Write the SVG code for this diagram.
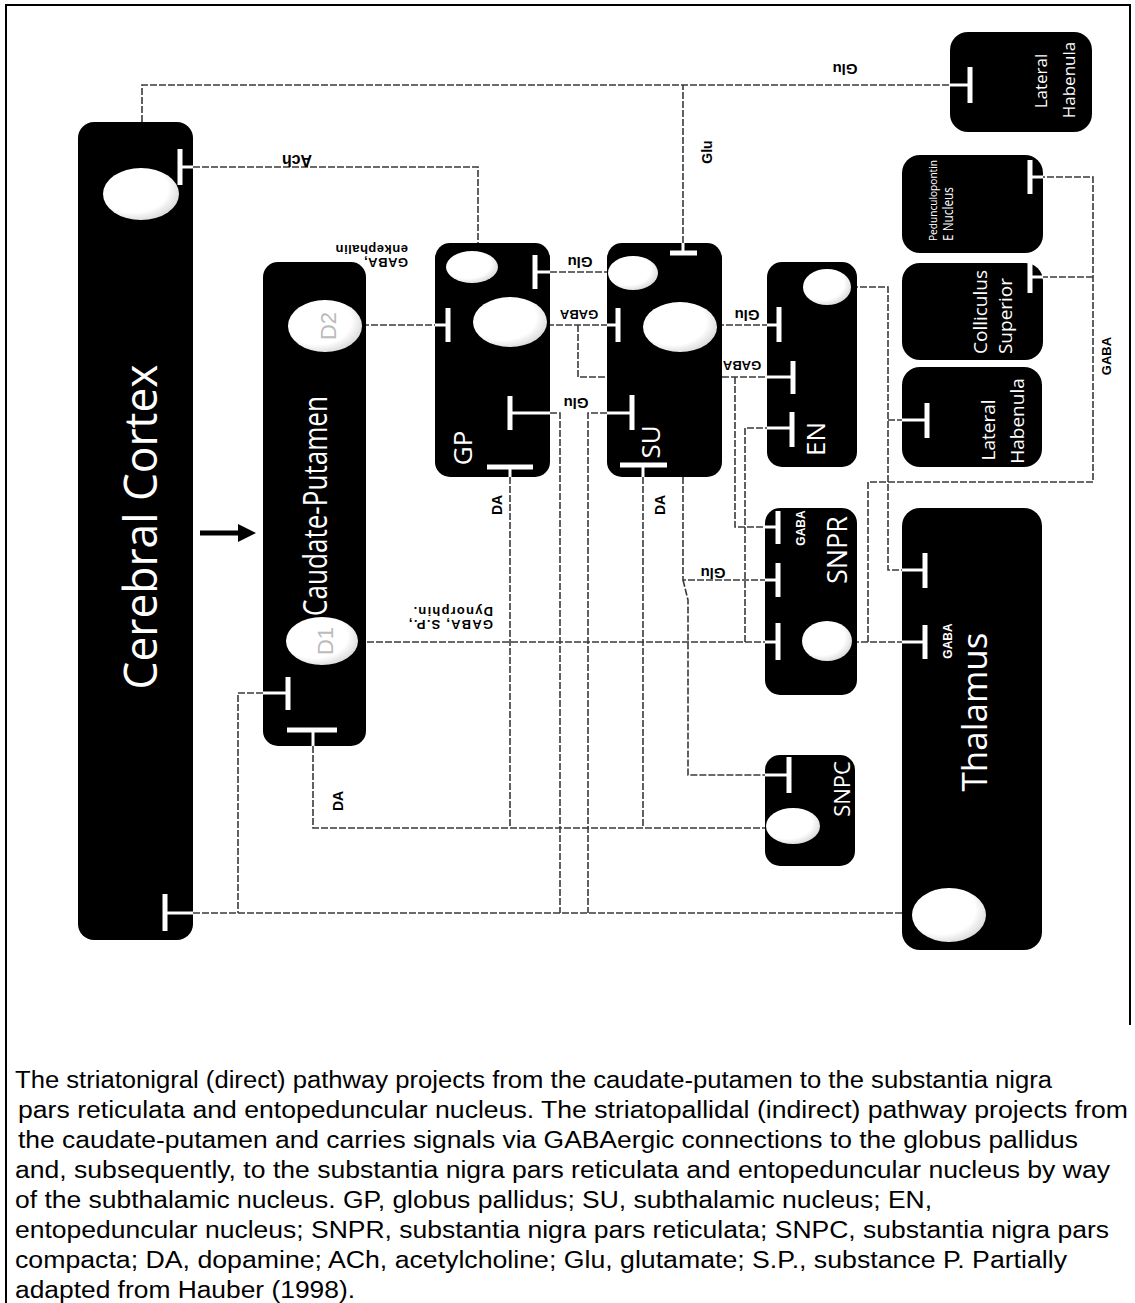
<svg xmlns="http://www.w3.org/2000/svg" width="1135" height="1303" viewBox="0 0 1135 1303">
<style>
.box{fill:#000}
.ell{fill:url(#eg)}
.bar{stroke:#fff;stroke-width:5;fill:none}
.stem{stroke:#fff;stroke-width:3;fill:none}
.win{stroke:#fff;stroke-width:2.5;fill:none}
.dash{stroke:#3a3a3a;stroke-width:1.6;fill:none;stroke-dasharray:7 2}
.nl{font-family:"Open Sans","Liberation Sans",sans-serif;fill:#fff}
.lb{font-family:"Liberation Sans",Arial,sans-serif;font-weight:bold;fill:#000}
.lw{font-family:"Liberation Sans",Arial,sans-serif;font-weight:bold;fill:#fff}
.cap{font-family:"Liberation Sans",Arial,sans-serif;font-size:23px;fill:#000}
</style>
<defs>
<radialGradient id="eg" cx="0.4" cy="0.4" r="0.65">
<stop offset="0.7" stop-color="#fff"/>
<stop offset="1" stop-color="#d8d8d8"/>
</radialGradient>
</defs>
<rect width="1135" height="1303" fill="#fff"/>
<path d="M6,1303 V5 H1130 V1025" fill="none" stroke="#000" stroke-width="2"/>

<!-- connectors -->
<g id="connectors">
<path class="dash" d="M142,122 V85 H950"/>
<path class="win" d="M142,168 V122"/>
<path class="dash" d="M683,243 V85"/>
<path class="dash" d="M193,167 H478 V243"/>
<path class="win" d="M478,243 V252"/>
<path class="dash" d="M362,325 H435"/>
<path class="dash" d="M550,272 H608"/>
<path class="dash" d="M547,325 H607"/>
<path class="dash" d="M578,325 V377 H607"/>
<path class="win" d="M607,377 H722"/>
<path class="dash" d="M722,377 H767"/>
<path class="dash" d="M717,325 H767"/>
<path class="dash" d="M735,377 V527 H765"/>
<path class="dash" d="M358,642 H765"/>
<path class="dash" d="M745,642 V428 H767"/>
<path class="dash" d="M852,642 H902"/>
<path class="dash" d="M868,642 V482 H1093 V177 H1043"/>
<path class="dash" d="M1093,277 H1043"/>
<path class="dash" d="M851,287 H888 V570 H902"/>
<path class="dash" d="M888,420 H902"/>
<path class="win" d="M683,352 V477"/>
<path class="dash" d="M683,477 V580 H765"/>
<path class="dash" d="M683,580 L688,600 V775 H765"/>
<path class="dash" d="M510,477 V828"/>
<path class="dash" d="M643,477 V828"/>
<path class="dash" d="M313,746 V828 H766"/>
<path class="dash" d="M550,413 H560 V913"/>
<path class="dash" d="M607,413 H588 V913"/>
<path class="dash" d="M193,913 H902"/>
<path class="win" d="M902,913 H914"/>
<path class="dash" d="M263,693 H238 V913"/>
<path d="M200,533 H240" stroke="#000" stroke-width="5"/>
<path d="M238,524 L256,533 L238,542 Z" fill="#000"/>
</g>

<g id="cortex">
<rect class="box" x="78" y="122" width="115" height="818" rx="16"/>
<ellipse class="ell" cx="141" cy="194" rx="38" ry="26"/>
<path class="bar" d="M180,149 V185"/><path class="stem" d="M180,167 H193"/>
<path class="bar" d="M165,894 V931"/><path class="stem" d="M165,913 H193"/>
<text class="nl" transform="translate(157,527) rotate(-90)" text-anchor="middle" font-size="46" textLength="325" lengthAdjust="spacingAndGlyphs">Cerebral Cortex</text>
</g>

<g id="caudate">
<rect class="box" x="263" y="262" width="103" height="484" rx="15"/>
<ellipse class="ell" cx="325" cy="326" rx="37" ry="26"/>
<ellipse class="ell" cx="322" cy="641" rx="36" ry="24"/>
<text transform="translate(336,326) rotate(-90)" text-anchor="middle" font-family="Liberation Sans,sans-serif" font-size="22" fill="#bbb">D2</text>
<text transform="translate(333,641) rotate(-90)" text-anchor="middle" font-family="Liberation Sans,sans-serif" font-size="22" fill="#bbb">D1</text>
<path class="bar" d="M288,677 V710"/><path class="stem" d="M288,693 H263"/>
<path class="bar" d="M287,730 H337"/><path class="stem" d="M313,730 V746"/>
<text class="nl" transform="translate(327,506) rotate(-90)" text-anchor="middle" font-size="32" textLength="220" lengthAdjust="spacingAndGlyphs">Caudate-Putamen</text>
</g>

<g id="gp">
<rect class="box" x="435" y="243" width="115" height="234" rx="15"/>
<ellipse class="ell" cx="472" cy="267" rx="26" ry="16"/>
<ellipse class="ell" cx="510" cy="322" rx="37" ry="25"/>
<path class="bar" d="M448,308 V342"/><path class="stem" d="M448,325 H435"/>
<path class="bar" d="M535,255 V289"/><path class="stem" d="M535,272 H550"/>
<path class="bar" d="M510,396 V430"/><path class="stem" d="M510,413 H550"/>
<path class="bar" d="M487,467 H533"/><path class="stem" d="M510,467 V477"/>
<text class="nl" transform="translate(472,448) rotate(-90)" text-anchor="middle" font-size="26">GP</text>
</g>

<g id="su">
<rect class="box" x="607" y="243" width="115" height="234" rx="15"/>
<ellipse class="ell" cx="633" cy="273" rx="25" ry="17"/>
<ellipse class="ell" cx="680" cy="327" rx="37" ry="25"/>
<path class="bar" d="M670,253 H697"/><path class="stem" d="M683,253 V243"/>
<path class="bar" d="M618,308 V342"/><path class="stem" d="M618,325 H607"/>
<path class="bar" d="M632,395 V430"/><path class="stem" d="M632,413 H607"/>
<path class="bar" d="M620,465 H667"/><path class="stem" d="M643,465 V477"/>
<text class="nl" transform="translate(660,442) rotate(-90)" text-anchor="middle" font-size="26">SU</text>
</g>

<g id="en">
<rect class="box" x="767" y="262" width="90" height="205" rx="15"/>
<ellipse class="ell" cx="827" cy="287" rx="24" ry="18"/>
<path class="bar" d="M779,307 V342"/><path class="stem" d="M779,325 H767"/>
<path class="bar" d="M793,361 V394"/><path class="stem" d="M793,377 H767"/>
<path class="bar" d="M792,412 V447"/><path class="stem" d="M792,428 H767"/>
<text class="nl" transform="translate(825,439) rotate(-90)" text-anchor="middle" font-size="26">EN</text>
</g>

<g id="snpr">
<rect class="box" x="765" y="508" width="92" height="187" rx="15"/>
<ellipse class="ell" cx="827" cy="641" rx="25" ry="20"/>
<path class="bar" d="M778,511 V544"/><path class="stem" d="M778,527 H765"/>
<path class="bar" d="M778,563 V597"/><path class="stem" d="M778,580 H765"/>
<path class="bar" d="M778,623 V660"/><path class="stem" d="M778,642 H765"/>
<text class="lw" transform="translate(805,528) rotate(-90)" text-anchor="middle" font-size="12">GABA</text>
<text class="nl" transform="translate(847,550) rotate(-90)" text-anchor="middle" font-size="27">SNPR</text>
</g>

<g id="snpc">
<rect class="box" x="765" y="755" width="90" height="111" rx="15"/>
<ellipse class="ell" cx="793" cy="826" rx="27" ry="18"/>
<path class="bar" d="M789,757 V793"/><path class="stem" d="M789,775 H765"/>
<text class="nl" transform="translate(850,789) rotate(-90)" text-anchor="middle" font-size="22">SNPC</text>
</g>

<g id="thalamus">
<rect class="box" x="902" y="508" width="140" height="442" rx="18"/>
<ellipse class="ell" cx="949" cy="915" rx="37" ry="27"/>
<path class="bar" d="M925,553 V588"/><path class="stem" d="M925,570 H902"/>
<path class="bar" d="M925,625 V659"/><path class="stem" d="M925,642 H902"/>
<text class="lw" transform="translate(952,641) rotate(-90)" text-anchor="middle" font-size="12">GABA</text>
<text class="nl" transform="translate(987,712) rotate(-90)" text-anchor="middle" font-size="35">Thalamus</text>
</g>

<g id="lathab1">
<rect class="box" x="950" y="32" width="142" height="100" rx="18"/>
<path class="bar" d="M970,67 V103"/><path class="stem" d="M970,85 H950"/>
<text class="nl" transform="translate(1047,81) rotate(-90)" text-anchor="middle" font-size="17">Lateral</text>
<text class="nl" transform="translate(1075,80) rotate(-90)" text-anchor="middle" font-size="17">Habenula</text>
</g>

<g id="ppn">
<rect class="box" x="902" y="155" width="141" height="98" rx="18"/>
<path class="bar" d="M1030,160 V194"/><path class="stem" d="M1030,177 H1043"/>
<text class="nl" transform="translate(937,241) rotate(-90)" font-size="11" textLength="81" lengthAdjust="spacingAndGlyphs">Pedunculopontin</text>
<text class="nl" transform="translate(953,241) rotate(-90)" font-size="15" textLength="54" lengthAdjust="spacingAndGlyphs">E Nucleus</text>
</g>

<g id="colliculus">
<rect class="box" x="902" y="263" width="141" height="97" rx="18"/>
<path class="bar" d="M1030,262 V293"/><path class="stem" d="M1030,277 H1043"/>
<text class="nl" transform="translate(987,312) rotate(-90)" text-anchor="middle" font-size="19">Colliculus</text>
<text class="nl" transform="translate(1012,316) rotate(-90)" text-anchor="middle" font-size="19">Superior</text>
</g>

<g id="lathab2">
<rect class="box" x="902" y="367" width="140" height="100" rx="18"/>
<path class="bar" d="M927,403 V438"/><path class="stem" d="M927,420 H902"/>
<text class="nl" transform="translate(995,430) rotate(-90)" text-anchor="middle" font-size="19">Lateral</text>
<text class="nl" transform="translate(1024,421) rotate(-90)" text-anchor="middle" font-size="19">Habenula</text>
</g>

<g id="labels">
<text class="lb" transform="translate(297,160) rotate(180)" text-anchor="middle" dominant-baseline="central" font-size="16">Ach</text>
<text class="lb" transform="translate(845,69) rotate(180)" text-anchor="middle" dominant-baseline="central" font-size="15">Glu</text>
<g transform="rotate(180,371,255)">
<text class="lb" x="334" y="248" dominant-baseline="central" font-size="13" letter-spacing="0.5">GABA,</text>
<text class="lb" x="334" y="261" dominant-baseline="central" font-size="13" letter-spacing="0.5">enkephalin</text>
</g>
<g transform="rotate(180,446.5,617.5)">
<text class="lb" x="400" y="611" dominant-baseline="central" font-size="13" letter-spacing="1.2">GABA, S.P.,</text>
<text class="lb" x="400" y="624" dominant-baseline="central" font-size="13" letter-spacing="1.2">Dynorphin.</text>
</g>
<text class="lb" transform="translate(580,262) rotate(180)" text-anchor="middle" dominant-baseline="central" font-size="15">Glu</text>
<text class="lb" transform="translate(579,314) rotate(180)" text-anchor="middle" dominant-baseline="central" font-size="13">GABA</text>
<text class="lb" transform="translate(747,315) rotate(180)" text-anchor="middle" dominant-baseline="central" font-size="15">Glu</text>
<text class="lb" transform="translate(742,365) rotate(180)" text-anchor="middle" dominant-baseline="central" font-size="13">GABA</text>
<text class="lb" transform="translate(576,403) rotate(180)" text-anchor="middle" dominant-baseline="central" font-size="15">Glu</text>
<text class="lb" transform="translate(713,573) rotate(180)" text-anchor="middle" dominant-baseline="central" font-size="15">Glu</text>
<text class="lb" transform="translate(502,505) rotate(-90)" text-anchor="middle" font-size="14">DA</text>
<text class="lb" transform="translate(665,505) rotate(-90)" text-anchor="middle" font-size="14">DA</text>
<text class="lb" transform="translate(343,801) rotate(-90)" text-anchor="middle" font-size="14">DA</text>
<text class="lb" transform="translate(712,152) rotate(-90)" text-anchor="middle" font-size="14">Glu</text>
<text class="lb" transform="translate(1111,356) rotate(-90)" text-anchor="middle" font-size="13">GABA</text>
</g>

<g id="caption">
<text class="cap" x="15" y="1088" textLength="1037" lengthAdjust="spacingAndGlyphs">The striatonigral (direct) pathway projects from the caudate-putamen to the substantia nigra</text>
<text class="cap" x="18" y="1118" textLength="1110" lengthAdjust="spacingAndGlyphs">pars reticulata and entopeduncular nucleus. The striatopallidal (indirect) pathway projects from</text>
<text class="cap" x="18" y="1148" textLength="1060" lengthAdjust="spacingAndGlyphs">the caudate-putamen and carries signals via GABAergic connections to the globus pallidus</text>
<text class="cap" x="15" y="1178" textLength="1095" lengthAdjust="spacingAndGlyphs">and, subsequently, to the substantia nigra pars reticulata and entopeduncular nucleus by way</text>
<text class="cap" x="15" y="1208" textLength="917" lengthAdjust="spacingAndGlyphs">of the subthalamic nucleus. GP, globus pallidus; SU, subthalamic nucleus; EN,</text>
<text class="cap" x="15" y="1238" textLength="1094" lengthAdjust="spacingAndGlyphs">entopeduncular nucleus; SNPR, substantia nigra pars reticulata; SNPC, substantia nigra pars</text>
<text class="cap" x="15" y="1268" textLength="1052" lengthAdjust="spacingAndGlyphs">compacta; DA, dopamine; ACh, acetylcholine; Glu, glutamate; S.P., substance P. Partially</text>
<text class="cap" x="15" y="1298" textLength="340" lengthAdjust="spacingAndGlyphs">adapted from Hauber (1998).</text>
</g>
</svg>
